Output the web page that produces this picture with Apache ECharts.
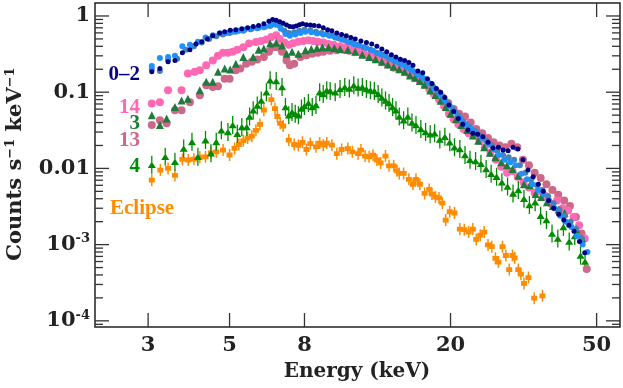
<!DOCTYPE html>
<html>
<head>
<meta charset="utf-8">
<script src="https://cdn.jsdelivr.net/npm/echarts@6/dist/echarts.min.js"></script>
<style>
  html, body { margin: 0; padding: 0; background: #fff; }
  #chart { width: 623px; height: 388px; }
</style>
</head>
<body>
<div id="chart"></div>
<script>
// 数据：能量 (keV) 与计数率，按轨道分组
const orbit02Navy = [[3.07,0.185],[3.23,0.205],[3.4,0.25],[3.55,0.26],[3.72,0.33],[3.9,0.36],[4.05,0.43],[4.2,0.46],[4.35,0.50],[4.5,0.55],[4.7,0.60],[4.85,0.62],[5.02,0.65],[5.2,0.66],[5.4,0.68],[5.6,0.70],[5.8,0.73],[6.0,0.75],[6.2,0.79],[6.4,0.85],[6.55,0.9],[6.7,0.88],[6.85,0.84],[7.0,0.8],[7.15,0.76],[7.3,0.73],[7.45,0.72],[7.6,0.74],[7.75,0.77],[7.9,0.79],[8.1,0.77],[8.3,0.76],[8.5,0.75],[8.75,0.74],[9.0,0.70],[9.25,0.66],[9.5,0.64],[9.8,0.60],[10.1,0.57],[10.4,0.55],[10.7,0.52],[11.0,0.50],[11.4,0.47],[11.8,0.45],[12.2,0.43],[12.6,0.40],[13.0,0.37],[13.4,0.34],[13.8,0.31],[14.2,0.29],[14.6,0.27],[15.0,0.26],[15.4,0.245],[15.8,0.225],[16.3,0.19],[16.8,0.18],[17.3,0.15],[17.8,0.13],[18.3,0.112],[18.8,0.10],[19.3,0.085],[19.8,0.068],[20.4,0.056],[21.0,0.045],[21.6,0.038],[22.3,0.032],[23.0,0.029],[23.7,0.028],[24.5,0.026],[25.3,0.022],[26.1,0.0185],[27.0,0.019],[27.8,0.0175],[28.7,0.017],[29.6,0.019],[30.5,0.018],[31.5,0.013],[32.5,0.0095],[33.6,0.0078],[34.7,0.0062],[35.8,0.0050],[37.0,0.0038],[38.2,0.0030],[39.4,0.0025],[40.7,0.0021],[42.0,0.0018],[43.4,0.0015],[44.9,0.0011],[46.4,0.00078]]
const orbit02Dodger = [[3.07,0.22],[3.23,0.28],[3.4,0.29],[3.55,0.30],[3.72,0.40],[3.9,0.42],[4.1,0.46],[4.3,0.52],[4.5,0.56],[4.7,0.59],[4.9,0.60],[5.1,0.62],[5.3,0.64],[5.5,0.66],[5.75,0.68],[6.0,0.70],[6.25,0.72],[6.5,0.76],[6.7,0.77],[6.9,0.68],[7.1,0.58],[7.3,0.55],[7.55,0.57],[7.8,0.60],[8.05,0.62],[8.35,0.61],[8.65,0.59],[9.0,0.57],[9.35,0.55],[9.7,0.52],[10.1,0.49],[10.5,0.46],[10.9,0.43],[11.3,0.41],[11.8,0.38],[12.3,0.35],[12.8,0.32],[13.3,0.30],[13.8,0.27],[14.3,0.25],[14.8,0.23],[15.3,0.21],[15.8,0.19],[16.3,0.17],[16.9,0.15],[17.5,0.13],[18.1,0.11],[18.7,0.095],[19.3,0.078],[19.9,0.066],[20.6,0.055],[21.3,0.045],[22.0,0.038],[22.8,0.033],[23.6,0.029],[24.4,0.025],[25.3,0.021],[26.2,0.018],[27.1,0.015],[28.1,0.013],[29.1,0.012],[30.1,0.011],[31.2,0.0085],[32.3,0.0072],[33.4,0.0062],[34.6,0.0052],[35.8,0.0046],[37.1,0.0038],[38.4,0.0030],[39.8,0.0024],[41.2,0.0020],[42.7,0.0017],[44.2,0.0013],[45.8,0.0010],[47.2,0.0008]]
const orbit02Steel = [[3.07,0.20],[3.23,0.19],[3.4,0.265],[3.6,0.275],[3.8,0.36],[4.0,0.40],[4.2,0.45],[4.4,0.50],[4.6,0.54],[4.8,0.57],[5.0,0.60],[5.2,0.62],[5.45,0.64],[5.7,0.67],[5.95,0.69],[6.2,0.71],[6.45,0.74],[6.65,0.80],[6.85,0.74],[7.05,0.64],[7.25,0.60],[7.5,0.61],[7.75,0.64],[8.0,0.66],[8.3,0.65],[8.6,0.62],[8.9,0.60],[9.2,0.58],[9.55,0.55],[9.9,0.51],[10.3,0.48],[10.7,0.45],[11.1,0.42],[11.6,0.39],[12.1,0.36],[12.6,0.33],[13.1,0.31],[13.6,0.28],[14.1,0.26],[14.6,0.24],[15.1,0.22],[15.6,0.20],[16.1,0.18],[16.7,0.16],[17.3,0.14],[17.9,0.12],[18.5,0.10],[19.1,0.085],[19.7,0.071],[20.3,0.06],[21.0,0.049],[21.7,0.041],[22.5,0.035],[23.3,0.031],[24.1,0.027],[25.0,0.023],[25.9,0.020],[26.8,0.017],[27.8,0.015],[28.8,0.014],[29.8,0.013],[30.9,0.011],[32.0,0.0088],[33.2,0.0072],[34.4,0.0060],[35.6,0.0052],[36.9,0.0043],[38.2,0.0035],[39.6,0.0029],[41.0,0.0024],[42.5,0.0020],[44.0,0.0016],[45.6,0.0012]]
const orbit14 = [[3.07,0.071],[3.23,0.074],[3.4,0.106],[3.7,0.106],[3.85,0.176],[4.02,0.185],[4.15,0.194],[4.32,0.226],[4.5,0.26],[4.65,0.30],[4.8,0.33],[4.95,0.33],[5.1,0.34],[5.25,0.36],[5.45,0.39],[5.65,0.435],[5.9,0.456],[6.1,0.47],[6.3,0.49],[6.5,0.53],[6.7,0.56],[6.85,0.50],[7.05,0.45],[7.25,0.42],[7.45,0.44],[7.7,0.46],[7.95,0.47],[8.2,0.48],[8.45,0.47],[8.7,0.46],[9.0,0.45],[9.3,0.43],[9.6,0.42],[10.0,0.40],[10.4,0.39],[10.8,0.37],[11.2,0.35],[11.6,0.32],[12.0,0.30],[12.5,0.27],[13.0,0.25],[13.5,0.23],[14.0,0.21],[14.5,0.20],[15.0,0.185],[15.5,0.17],[16.0,0.155],[16.5,0.14],[17.0,0.125],[17.5,0.11],[18.0,0.095],[18.6,0.08],[19.2,0.066],[19.8,0.052],[20.4,0.044],[21.0,0.038],[21.7,0.033],[22.4,0.029],[23.2,0.027],[24.0,0.023],[24.8,0.019],[25.7,0.016],[26.6,0.013],[27.5,0.0105],[28.5,0.0088],[29.5,0.0092],[30.5,0.0078],[31.6,0.0066],[32.7,0.0056],[33.9,0.0048],[35.1,0.0050],[36.4,0.0043],[37.7,0.0034],[39.0,0.0038],[40.4,0.0030],[41.8,0.0028],[43.3,0.0023],[44.8,0.0018],[46.4,0.0012]]
const orbit13 = [[3.07,0.037],[3.23,0.043],[3.37,0.039],[3.55,0.058],[3.7,0.058],[3.9,0.074],[4.15,0.091],[4.32,0.123],[4.5,0.117],[4.65,0.12],[4.85,0.15],[5.0,0.15],[5.2,0.194],[5.35,0.204],[5.55,0.237],[5.75,0.25],[5.95,0.268],[6.2,0.29],[6.4,0.34],[6.55,0.39],[6.75,0.39],[6.95,0.34],[7.15,0.26],[7.3,0.226],[7.5,0.237],[7.8,0.29],[8.1,0.305],[8.4,0.32],[8.7,0.33],[9.0,0.34],[9.4,0.35],[9.8,0.355],[10.2,0.36],[10.6,0.35],[11.0,0.34],[11.5,0.32],[12.0,0.30],[12.5,0.285],[13.0,0.27],[13.5,0.255],[14.0,0.235],[14.5,0.22],[15.0,0.20],[15.5,0.19],[16.0,0.17],[16.6,0.15],[17.2,0.13],[17.8,0.115],[18.4,0.10],[19.0,0.086],[19.7,0.072],[20.4,0.06],[21.1,0.052],[21.9,0.048],[22.7,0.040],[23.5,0.033],[24.4,0.029],[25.3,0.025],[26.2,0.022],[27.2,0.020],[28.2,0.019],[29.3,0.021],[30.4,0.019],[31.5,0.013],[32.7,0.011],[33.9,0.0088],[35.2,0.0075],[36.5,0.0062],[37.9,0.0052],[39.3,0.0045],[40.8,0.0038],[42.3,0.0032],[43.9,0.0023],[45.5,0.0014],[47.0,0.00048]]
const orbit3 = [[3.07,0.05],[3.23,0.037],[3.37,0.045],[3.55,0.064],[3.7,0.078],[3.85,0.082],[4.15,0.106],[4.32,0.137],[4.5,0.137],[4.65,0.185],[4.85,0.204],[5.02,0.198],[5.2,0.237],[5.45,0.29],[5.8,0.29],[6.0,0.36],[6.2,0.373],[6.45,0.435],[6.7,0.445],[6.95,0.41],[7.15,0.32],[7.4,0.34],[7.7,0.32],[8.05,0.355],[8.35,0.37],[8.65,0.38],[8.95,0.39],[9.3,0.39],[9.65,0.38],[10.0,0.37],[10.5,0.36],[11.0,0.34],[11.5,0.31],[12.0,0.29],[12.5,0.27],[13.0,0.25],[13.5,0.23],[14.0,0.215],[14.5,0.20],[15.0,0.185],[15.5,0.165],[16.0,0.155],[16.5,0.14],[17.0,0.125],[17.6,0.105],[18.2,0.092],[18.8,0.077],[19.4,0.064],[20.0,0.052],[20.7,0.044],[21.4,0.037],[22.2,0.032],[23.0,0.027],[23.8,0.023],[24.7,0.019],[25.6,0.016],[26.5,0.014],[27.5,0.012],[28.5,0.011],[29.5,0.0098],[30.6,0.0080],[31.7,0.0062],[32.9,0.0060],[34.1,0.0046],[35.3,0.0042],[36.6,0.0036],[38.0,0.0032],[39.4,0.0029],[40.9,0.0026],[42.4,0.0019],[44.0,0.0016],[45.6,0.0012]]
const orbit4 = [[3.07,0.0112],[3.34,0.0142],[3.55,0.0122],[3.75,0.0183],[3.95,0.0223],[4.1,0.0142],[4.3,0.0235],[4.45,0.0158],[4.6,0.0223],[4.75,0.0316],[4.95,0.030],[5.1,0.037],[5.25,0.0285],[5.4,0.035],[5.57,0.035],[5.67,0.048],[5.8,0.058],[5.95,0.067],[6.1,0.078],[6.3,0.10],[6.45,0.143],[6.7,0.140],[6.95,0.117],[7.1,0.064],[7.25,0.05],[7.4,0.055],[7.55,0.052],[7.7,0.050],[7.85,0.061],[8.0,0.066],[8.2,0.072],[8.4,0.064],[8.6,0.068],[8.8,0.10],[9.0,0.095],[9.2,0.106],[9.4,0.104],[9.7,0.10],[10.0,0.11],[10.3,0.117],[10.6,0.112],[10.9,0.123],[11.2,0.115],[11.5,0.117],[11.8,0.110],[12.1,0.106],[12.4,0.104],[12.7,0.095],[13.0,0.085],[13.3,0.078],[13.6,0.072],[13.9,0.064],[14.2,0.058],[14.5,0.048],[14.9,0.043],[15.3,0.048],[15.7,0.040],[16.1,0.037],[16.6,0.033],[17.1,0.030],[17.6,0.028],[18.1,0.029],[18.7,0.024],[19.3,0.026],[19.9,0.022],[20.5,0.019],[21.2,0.018],[21.9,0.015],[22.6,0.013],[23.4,0.0125],[24.2,0.0115],[25.0,0.0098],[25.8,0.0085],[26.7,0.0078],[27.6,0.0066],[28.6,0.0058],[29.6,0.0047],[30.6,0.0052],[31.7,0.0040],[32.8,0.0033],[34.0,0.0036],[35.2,0.0024],[36.5,0.0021],[37.8,0.0014],[39.2,0.0012],[40.6,0.0017],[42.1,0.0011],[43.6,0.0013],[45.2,0.00072],[46.5,0.00060]]
const eclipse = [[3.07,0.0070],[3.24,0.0095],[3.4,0.010],[3.55,0.0081],[3.72,0.0131],[3.86,0.0129],[4.0,0.0132],[4.15,0.014],[4.3,0.0142],[4.45,0.016],[4.6,0.0165],[4.8,0.0174],[5.0,0.015],[5.16,0.0183],[5.3,0.0206],[5.45,0.023],[5.6,0.025],[5.75,0.0265],[5.9,0.0316],[6.05,0.0378],[6.2,0.058],[6.5,0.080],[6.65,0.061],[6.75,0.048],[6.87,0.039],[7.0,0.036],[7.25,0.0235],[7.5,0.0206],[7.7,0.020],[7.9,0.022],[8.1,0.0177],[8.3,0.0212],[8.6,0.0192],[8.8,0.0215],[9.0,0.0202],[9.2,0.0215],[9.5,0.0202],[9.8,0.0156],[10.1,0.0177],[10.5,0.0182],[10.8,0.0165],[11.2,0.0156],[11.4,0.0174],[11.7,0.0145],[12.0,0.0142],[12.3,0.0149],[12.6,0.0129],[12.9,0.0118],[13.3,0.0145],[13.6,0.0108],[14.0,0.0108],[14.3,0.0093],[14.5,0.0086],[14.9,0.0086],[15.4,0.0072],[15.8,0.0062],[16.1,0.0072],[16.5,0.0062],[17.0,0.0047],[17.5,0.0053],[17.8,0.0046],[18.2,0.0042],[18.6,0.0041],[19.0,0.0035],[19.4,0.0021],[19.9,0.0027],[20.5,0.0026],[21.2,0.0016],[21.8,0.00157],[22.4,0.00146],[23.0,0.0016],[23.5,0.00117],[24.1,0.00133],[24.7,0.00146],[25.3,0.00099],[25.9,0.00094],[26.5,0.00066],[27.0,0.00059],[27.7,0.00094],[28.3,0.00072],[28.9,0.00047],[29.5,0.00072],[29.9,0.00067],[30.6,0.00047],[31.1,0.00041],[31.7,0.00031],[32.6,0.00037],[33.8,0.000198],[35.6,0.000213]]

// 坐标轴刻度
const xTickValues = [3, 5, 8, 20, 50]
const yTickValues = [1, 0.1, 0.01, 0.001, 0.0001]
const yTickTexts = ['{b|1}', '{b|0.1}', '{b|0.01}', '{b|10}{sup|-3}', '{b|10}{sup|-4}']

// 曲线标签
const seriesLabels = ['0–2', '14', '3', '13', '4', 'Eclipse']

const X_MIN = 2.15, X_MAX = 57.9, Y_MIN = 8.3e-5, Y_MAX = 1.48
const tickFont = '"DejaVu Serif"'
const labelFont = '"Liberation Serif"'

const chart = echarts.init(document.getElementById('chart'))

const hiddenAxis = {
  type: 'log',
  logBase: 10,
  axisLine: { show: false },
  axisTick: { show: false },
  axisLabel: { show: false },
  splitLine: { show: false },
}

// 误差棒样式的符号
const triBar = 'path://M5 7 L10 15 L0 15 Z M4.2 0 L5.8 0 L5.8 22 L4.2 22 Z'
const sqBar = 'path://M1 6 L9 6 L9 14 L1 14 Z M4 0 L6 0 L6 20 L4 20 Z'

const scatter = (data, color, symbol, size, z) => ({
  type: 'scatter',
  data,
  symbol,
  symbolSize: size,
  itemStyle: { color, opacity: 1 },
  z,
  silent: true,
})

const option = {
  animation: false,
  grid: { left: 95, right: 3, top: 3, bottom: 61, show: true, borderColor: '#222', borderWidth: 1.5 },
  xAxis: { ...hiddenAxis, min: X_MIN, max: X_MAX },
  yAxis: { ...hiddenAxis, min: Y_MIN, max: Y_MAX },
  series: [
    scatter(eclipse, '#FF8C00', sqBar, [6, 12], 2),
    scatter(orbit4, '#008B00', triBar, [8, 18], 3),
    scatter(orbit13, '#CD6889', 'circle', 8, 4),
    scatter(orbit14, '#FF69B4', 'circle', 8, 5),
    scatter(orbit3, '#1E7B3A', 'triangle', 8, 6),
    scatter(orbit02Steel, '#4682B4', 'circle', 6, 7),
    scatter(orbit02Dodger, '#1E90FF', 'circle', 6, 8),
    scatter(orbit02Navy, '#000080', 'circle', 5, 9),
  ],
}
chart.setOption(option)

// 手动绘制刻度和标签
const px = v => chart.convertToPixel({ xAxisIndex: 0 }, v)
const py = v => chart.convertToPixel({ yAxisIndex: 0 }, v)
const gLeft = px(X_MIN), gRight = px(X_MAX), gTop = py(Y_MAX), gBottom = py(Y_MIN)
const g = []
const line = (x1, y1, x2, y2) => ({
  type: 'line', silent: true, z: 20,
  shape: { x1, y1, x2, y2 },
  style: { stroke: '#333', lineWidth: 1.3 },
})

xTickValues.forEach(v => {
  const x = px(v)
  g.push(line(x, gBottom, x, gBottom - 14))
  g.push(line(x, gTop, x, gTop + 14))
  g.push({
    type: 'text', silent: true, x, y: gBottom + 19,
    style: { text: String(v), font: 'bold 21px ' + tickFont, fill: '#222', align: 'center', verticalAlign: 'middle' },
  })
})

yTickValues.forEach((v, i) => {
  const y = py(v)
  g.push(line(gLeft, y, gLeft + 14, y))
  g.push(line(gRight, y, gRight - 14, y))
  g.push({
    type: 'text', silent: true, x: gLeft - 5, y,
    style: {
      text: yTickTexts[i], align: 'right', verticalAlign: 'middle', fill: '#222',
      rich: {
        b: { fontSize: 21, fontWeight: 'bold', fontFamily: tickFont, lineHeight: 24, fill: '#222' },
        sup: { fontSize: 13, fontWeight: 'bold', fontFamily: tickFont, lineHeight: 13, verticalAlign: 'top', fill: '#222' },
      },
    },
  })
})

for (let k = -5; k <= 0; k++) {
  for (let m = 2; m <= 9; m++) {
    const v = m * Math.pow(10, k)
    if (v < Y_MIN || v > Y_MAX) continue
    const y = py(v)
    g.push(line(gLeft, y, gLeft + 8, y))
    g.push(line(gRight, y, gRight - 8, y))
  }
}

// 轴标题
g.push({
  type: 'text', silent: true, x: 357, y: 372,
  style: { text: 'Energy (keV)', font: 'bold 20px ' + tickFont, fill: '#222', align: 'center', verticalAlign: 'middle' },
})
g.push({
  type: 'text', silent: true, x: 16, y: 164, rotation: Math.PI / 2,
  style: {
    text: '{b|Counts s}{sup|−1}{b| keV}{sup|−1}', align: 'center', verticalAlign: 'middle', fill: '#222',
    rich: {
      b: { fontSize: 21, fontWeight: 'bold', fontFamily: tickFont, lineHeight: 24, fill: '#222' },
      sup: { fontSize: 13, fontWeight: 'bold', fontFamily: tickFont, lineHeight: 13, verticalAlign: 'top', fill: '#222' },
    },
  },
})

// 曲线名称
const labelColors = ['#000080', '#FF69B4', '#1E7B3A', '#CD6889', '#008B00', '#FF8C00']
const labelPos = [[140, 75], [140, 108], [140, 124], [140, 141], [140, 167], [110, 209]]
seriesLabels.forEach((t, i) => {
  g.push({
    type: 'text', silent: true, x: labelPos[i][0], y: labelPos[i][1],
    style: {
      text: t, font: 'bold 21px ' + labelFont, fill: labelColors[i],
      align: i === 5 ? 'left' : 'right', verticalAlign: 'middle',
    },
  })
})

chart.setOption({ graphic: g })
</script>
</body>
</html>
